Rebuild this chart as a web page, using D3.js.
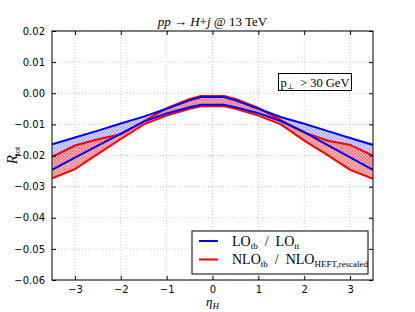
<!DOCTYPE html>
<html>
<head>
<meta charset="utf-8">
<script src="https://cdn.jsdelivr.net/npm/d3@7"></script>
<style>
  body { margin: 0; background: #fff; }
  svg { display: block; }
</style>
</head>
<body>
<div id="chart"></div>
<script>
// eta grid and the four curves (band edges)
var eta = [-3.5, -3.0, -2.5, -2.0, -1.5, -1.0, -0.5, -0.25, 0.25, 0.5, 1.0, 1.5, 2.0, 2.5, 3.0, 3.5];
var loUpper  = [-0.0164, -0.0142, -0.0120, -0.0097, -0.0075, -0.0050, -0.0023, -0.0012, -0.0012, -0.0023, -0.0050, -0.0077, -0.0098, -0.0121, -0.0144, -0.0166];
var loLower  = [-0.0246, -0.0207, -0.0168, -0.0130, -0.0091, -0.0065, -0.0045, -0.0037, -0.0037, -0.0045, -0.0064, -0.0090, -0.0125, -0.0166, -0.0206, -0.0246];
var nloUpper = [-0.0204, -0.0168, -0.0148, -0.0132, -0.0090, -0.0048, -0.0018, -0.0009, -0.0009, -0.0018, -0.0047, -0.0087, -0.0126, -0.0152, -0.0166, -0.0200];
var nloLower = [-0.0273, -0.0244, -0.0195, -0.0147, -0.0100, -0.0072, -0.0050, -0.0042, -0.0042, -0.0050, -0.0072, -0.0101, -0.0152, -0.0198, -0.0246, -0.0275];

var xTicks = [-3, -2, -1, 0, 1, 2, 3];
var yTicks = [-0.06, -0.05, -0.04, -0.03, -0.02, -0.01, 0.00, 0.01, 0.02];

var margin = {top: 31, right: 42, bottom: 32, left: 52},
    width = 415 - margin.left - margin.right,
    height = 312 - margin.top - margin.bottom;

var svg = d3.select("#chart").append("svg")
    .attr("width", 415)
    .attr("height", 312);

// hatch patterns
var defs = svg.append("defs");
function hatch(id, bg, fg) {
  var p = defs.append("pattern")
    .attr("id", id)
    .attr("patternUnits", "userSpaceOnUse")
    .attr("width", 3).attr("height", 3);
  p.append("rect").attr("width", 3).attr("height", 3).attr("fill", bg);
  p.append("path").attr("d", "M0,0L3,3M0,3L3,0")
    .attr("stroke", fg).attr("stroke-width", 0.6);
}
hatch("hatchBlue", "#d4d4ff", "#8080ff");
hatch("hatchRed", "#ffa8a8", "#ff4a4a");

var g = svg.append("g")
    .attr("transform", "translate(" + margin.left + "," + margin.top + ")");

var x = d3.scaleLinear().domain([-3.5, 3.5]).range([0, width]);
var y = d3.scaleLinear().domain([-0.06, 0.02]).range([height, 0]);

// grid
g.append("g").selectAll("line").data(xTicks).enter().append("line")
  .attr("x1", function(d) { return x(d); }).attr("x2", function(d) { return x(d); })
  .attr("y1", 0).attr("y2", height)
  .attr("stroke", "#aaa").attr("stroke-width", 0.6).attr("stroke-dasharray", "1,2");
g.append("g").selectAll("line").data(yTicks).enter().append("line")
  .attr("y1", function(d) { return y(d); }).attr("y2", function(d) { return y(d); })
  .attr("x1", 0).attr("x2", width)
  .attr("stroke", "#aaa").attr("stroke-width", 0.6).attr("stroke-dasharray", "1,2");

var plot = g.append("g");
plot.append("clipPath").attr("id", "clip").append("rect")
  .attr("width", width).attr("height", height);
plot.attr("clip-path", "url(#clip)");

function band(up, lo) {
  return d3.area()
    .x(function(d, i) { return x(eta[i]); })
    .y0(function(d, i) { return y(lo[i]); })
    .y1(function(d, i) { return y(up[i]); })(eta);
}
function curve(vals) {
  return d3.line()
    .x(function(d, i) { return x(eta[i]); })
    .y(function(d, i) { return y(vals[i]); })(eta);
}

plot.append("path").attr("d", band(loUpper, loLower))
  .attr("fill", "url(#hatchBlue)").attr("opacity", 0.85);
plot.append("path").attr("d", band(nloUpper, nloLower))
  .attr("fill", "url(#hatchRed)").attr("opacity", 0.8);

[nloUpper, nloLower].forEach(function(v) {
  plot.append("path").attr("d", curve(v))
    .attr("fill", "none").attr("stroke", "#ff0000").attr("stroke-width", 2);
});
[loUpper, loLower].forEach(function(v) {
  plot.append("path").attr("d", curve(v))
    .attr("fill", "none").attr("stroke", "#0000ff").attr("stroke-width", 2);
});

// axes: ticks inside on all four sides
var fmtY = function(d) { return d3.format(".2f")(d).replace("-", "\u2212"); };
var fmtX = function(d) { return d3.format("d")(d).replace("-", "\u2212"); };

var axB = g.append("g").attr("transform", "translate(0," + height + ")")
  .call(d3.axisBottom(x).tickValues(xTicks).tickSizeInner(-4).tickSizeOuter(0).tickPadding(6).tickFormat(fmtX));
var axT = g.append("g")
  .call(d3.axisTop(x).tickValues(xTicks).tickSizeInner(-4).tickSizeOuter(0).tickFormat(""));
var axL = g.append("g")
  .call(d3.axisLeft(y).tickValues(yTicks).tickSizeInner(-4).tickSizeOuter(0).tickPadding(7).tickFormat(fmtY));
var axR = g.append("g").attr("transform", "translate(" + width + ",0)")
  .call(d3.axisRight(y).tickValues(yTicks).tickSizeInner(-4).tickSizeOuter(0).tickFormat(""));

[axB, axT, axL, axR].forEach(function(a) {
  a.select(".domain").remove();
  a.selectAll("text").attr("font-family", "DejaVu Sans").attr("font-size", 10).attr("fill", "#000");
  a.selectAll("line").attr("stroke", "#000");
});

g.append("rect").attr("width", width).attr("height", height)
  .attr("fill", "none").attr("stroke", "#000").attr("stroke-width", 1);

var serif = "Liberation Serif";

// title
var title = svg.append("text")
  .attr("x", margin.left + width / 2).attr("y", 26)
  .attr("text-anchor", "middle")
  .attr("font-family", serif).attr("font-size", 13);
title.append("tspan").attr("font-style", "italic").text("pp");
title.append("tspan").text(" \u2192 ");
title.append("tspan").attr("font-style", "italic").text("H");
title.append("tspan").text("+");
title.append("tspan").attr("font-style", "italic").text("j");
title.append("tspan").text(" @ 13 TeV");

// x label
var xl = svg.append("text")
  .attr("x", margin.left + width / 2).attr("y", 306)
  .attr("text-anchor", "middle")
  .attr("font-family", serif).attr("font-size", 13);
xl.append("tspan").attr("font-style", "italic").text("\u03b7");
xl.append("tspan").attr("font-style", "italic").attr("font-size", 9).attr("dy", 3).text("H");

// y label
var yl = svg.append("text")
  .attr("transform", "translate(17," + (margin.top + height / 2) + ") rotate(-90)")
  .attr("text-anchor", "middle")
  .attr("font-family", serif).attr("font-size", 15);
yl.append("tspan").attr("font-style", "italic").text("R");
yl.append("tspan").attr("font-size", 8).attr("dy", 3).text("tot");

// pT cut box
svg.append("rect")
  .attr("x", 278.5).attr("y", 73.5).attr("width", 73).attr("height", 17)
  .attr("fill", "#fff").attr("stroke", "#000").attr("stroke-width", 1);
var pt = svg.append("text")
  .attr("x", 315).attr("y", 86.5)
  .attr("text-anchor", "middle")
  .attr("font-family", serif).attr("font-size", 12.5);
pt.append("tspan").text("p");
pt.append("tspan").attr("font-size", 8).attr("dy", 2).text("\u22a5");
pt.append("tspan").attr("dy", -2).text("\u2002> 30 GeV");

// legend
var leg = svg.append("g");
leg.append("rect")
  .attr("x", 192).attr("y", 231).attr("width", 176).attr("height", 43)
  .attr("fill", "#fff").attr("stroke", "#000").attr("stroke-width", 1);
var legendItems = [
  {color: "#0000ff", parts: [["LO", 0], ["tb", 1], ["\u2002/\u2002LO", 0], ["tt", 1]]},
  {color: "#ff0000", parts: [["NLO", 0], ["tb", 1], ["\u2002/\u2002NLO", 0], ["HEFT,rescaled", 1]]}
];
legendItems.forEach(function(it, i) {
  var yy = 241 + i * 18.5;
  leg.append("line").attr("x1", 199).attr("x2", 218).attr("y1", yy).attr("y2", yy)
    .attr("stroke", it.color).attr("stroke-width", 2);
  var t = leg.append("text").attr("x", 232).attr("y", yy + 4.5)
    .attr("font-family", serif).attr("font-size", 14);
  var sub = 0;
  it.parts.forEach(function(p) {
    var ts = t.append("tspan").text(p[0]);
    if (p[1] && !sub) { ts.attr("font-size", 9).attr("dy", 3); sub = 1; }
    else if (!p[1] && sub) { ts.attr("dy", -3); sub = 0; }
    else if (p[1]) ts.attr("font-size", 9);
  });
});
</script>
</body>
</html>
